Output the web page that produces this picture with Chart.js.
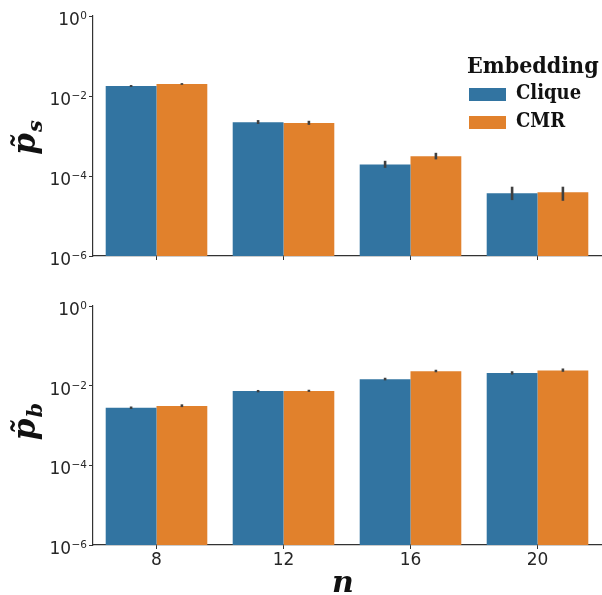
<!DOCTYPE html>
<html>
<head>
<meta charset="utf-8">
<script src="https://cdn.jsdelivr.net/npm/chart.js@4.4.0/dist/chart.umd.min.js"></script>
<style>
  html, body { margin: 0; padding: 0; background: #ffffff; }
  #wrap { position: relative; width: 602px; height: 595px; overflow: hidden; }
  .panel { position: absolute; left: 0; width: 602px; }
  #top { top: 0; height: 280px; }
  #bot { top: 280px; height: 315px; }
</style>
</head>
<body>
<div id="wrap">
  <div class="panel" id="top"><canvas id="cTop"></canvas></div>
  <div class="panel" id="bot"><canvas id="cBot"></canvas></div>
</div>
<script>
// ---- data -------------------------------------------------------------
const categories = ['8', '12', '16', '20'];
const seriesNames = ['Clique', 'CMR'];
const legendTitle = 'Embedding';
const xTitle = 'n';

// log ticks: value, mantissa text and exponent text
const yTickValues = [1e-6, 1e-4, 1e-2, 1];
const yTickBase = '10';
const yTickExponents = ['\u22126', '\u22124', '\u22122', '0'];

// success probability p_s
const psClique   = [0.0178, 0.0022, 0.000195, 0.000037];
const psCliqueLo = [0.0168, 0.0020, 0.000160, 0.000025];
const psCliqueHi = [0.0188, 0.0025, 0.000240, 0.000054];
const psCMR      = [0.0200, 0.0021, 0.000310, 0.000039];
const psCMRLo    = [0.0190, 0.0019, 0.000260, 0.000024];
const psCMRHi    = [0.0210, 0.0024, 0.000380, 0.000054];

// p_b
const pbClique   = [0.0028, 0.0073, 0.0144, 0.0208];
const pbCliqueLo = [0.0026, 0.0068, 0.0136, 0.0190];
const pbCliqueHi = [0.0030, 0.0078, 0.0158, 0.0230];
const pbCMR      = [0.0031, 0.0074, 0.0230, 0.0240];
const pbCMRLo    = [0.0029, 0.0070, 0.0217, 0.0223];
const pbCMRHi    = [0.0034, 0.0079, 0.0251, 0.0270];

// ---- styling ----------------------------------------------------------
const colors = ['#3274a1', '#e1812c'];
const axisColor = '#333333';
const textColor = '#262626';
const errColor = '#404040';

// vertical error bars drawn through the y scale
const errorBars = {
  id: 'errorBars',
  afterDatasetsDraw(chart) {
    const ctx = chart.ctx;
    const ys = chart.scales.y;
    ctx.save();
    ctx.strokeStyle = errColor;
    ctx.lineWidth = 2.6;
    chart.data.datasets.forEach((ds, di) => {
      const meta = chart.getDatasetMeta(di);
      meta.data.forEach((bar, i) => {
        const y1 = ys.getPixelForValue(ds.errLo[i]);
        const y2 = ys.getPixelForValue(ds.errHi[i]);
        ctx.beginPath();
        ctx.moveTo(bar.x, y1);
        ctx.lineTo(bar.x, y2);
        ctx.stroke();
      });
    });
    ctx.restore();
  }
};

// y tick labels as 10 with a raised exponent
const logTickLabels = {
  id: 'logTickLabels',
  afterDraw(chart) {
    const ctx = chart.ctx;
    const ys = chart.scales.y;
    const right = ys.right - 6;
    ctx.save();
    ctx.fillStyle = textColor;
    ctx.textBaseline = 'alphabetic';
    ctx.textAlign = 'right';
    ys.ticks.forEach((t) => {
      const idx = yTickValues.indexOf(t.value);
      if (idx < 0) return;
      const y = ys.getPixelForValue(t.value);
      ctx.font = '10.5px "DejaVu Sans"';
      const exp = yTickExponents[idx];
      const we = ctx.measureText(exp).width;
      ctx.fillText(exp, right, y + 3);
      ctx.font = '17px "DejaVu Sans"';
      ctx.fillText(yTickBase, right - we - 0.5, y + 9);
    });
    ctx.restore();
  }
};

// rotated y title: tilde-p with subscript
function drawYTitle(ctx, x0, yc, sub) {
  ctx.save();
  ctx.translate(x0, yc);
  ctx.rotate(-Math.PI / 2);
  ctx.fillStyle = '#111111';
  ctx.textBaseline = 'alphabetic';
  ctx.textAlign = 'left';
  const mainFont = 'italic bold 31px "DejaVu Serif"';
  const subFont = 'italic bold 21px "DejaVu Serif"';
  const main = 'p\u0303';
  ctx.font = mainFont;
  const wm = ctx.measureText(main).width;
  ctx.font = subFont;
  const ws = ctx.measureText(sub).width;
  const start = -(wm + ws) / 2;
  ctx.font = mainFont;
  ctx.fillText(main, start, 0);
  ctx.font = subFont;
  ctx.fillText(sub, start + wm + 1, 7);
  ctx.restore();
}

const titles = {
  id: 'titles',
  afterDraw(chart, args, opts) {
    const ctx = chart.ctx;
    drawYTitle(ctx, opts.yTitleX, opts.yTitleY, opts.sub);
    if (opts.showX) {
      ctx.save();
      ctx.fillStyle = '#111111';
      ctx.font = 'italic bold 30px "DejaVu Serif"';
      ctx.textAlign = 'center';
      ctx.textBaseline = 'alphabetic';
      ctx.fillText(xTitle, opts.xTitleX, opts.xTitleY);
      ctx.restore();
    }
    if (opts.showLegend) {
      ctx.save();
      ctx.fillStyle = '#111111';
      ctx.textAlign = 'left';
      ctx.textBaseline = 'alphabetic';
      ctx.font = 'bold 23px "DejaVu Serif Condensed", "DejaVu Serif"';
      ctx.fillText(legendTitle, 467, 73);
      ctx.font = 'bold 20px "DejaVu Serif Condensed", "DejaVu Serif"';
      chart.data.datasets.forEach((ds, i) => {
        const py = 88 + i * 28;
        ctx.fillStyle = ds.backgroundColor;
        ctx.fillRect(469, py, 37, 13);
        ctx.fillStyle = '#111111';
        ctx.fillText(ds.label, 516, py + 11);
      });
      ctx.restore();
    }
  }
};

function makePanel(canvasId, dataA, loA, hiA, dataB, loB, hiB, cfg) {
  return new Chart(document.getElementById(canvasId), {
    type: 'bar',
    data: {
      labels: categories,
      datasets: [
        { label: seriesNames[0], data: dataA, errLo: loA, errHi: hiA,
          backgroundColor: colors[0], borderWidth: 0 },
        { label: seriesNames[1], data: dataB, errLo: loB, errHi: hiB,
          backgroundColor: colors[1], borderWidth: 0 }
      ]
    },
    options: {
      responsive: true,
      maintainAspectRatio: false,
      animation: false,
      devicePixelRatio: 1,
      categoryPercentage: 0.8,
      barPercentage: 1.0,
      layout: { padding: { top: cfg.padTop, right: 1, left: 0, bottom: 0 } },
      plugins: {
        legend: { display: false },
        tooltip: { enabled: false },
        titles: cfg.titles
      },
      scales: {
        x: {
          type: 'category',
          offset: true,
          grid: { display: true, offset: false, drawOnChartArea: false, drawTicks: true,
                  tickLength: 4, color: axisColor, lineWidth: 1 },
          border: { display: true, color: axisColor, width: 1.2 },
          ticks: { display: cfg.showXTicks, color: textColor, padding: 1,
                   font: { family: 'DejaVu Sans', size: 17 } },
          afterFit(scale) { scale.height = cfg.xHeight; }
        },
        y: {
          type: 'logarithmic',
          min: 1e-6,
          max: 1,
          grid: { display: true, drawOnChartArea: false, drawTicks: true,
                  tickLength: 4, color: axisColor, lineWidth: 1 },
          border: { display: true, color: axisColor, width: 1.2 },
          afterBuildTicks(scale) {
            scale.ticks = yTickValues.map(v => ({ value: v, major: true }));
          },
          ticks: { display: false, autoSkip: false },
          afterFit(scale) { scale.width = 93; }
        }
      }
    },
    plugins: [errorBars, logTickLabels, titles]
  });
}

makePanel('cTop', psClique, psCliqueLo, psCliqueHi, psCMR, psCMRLo, psCMRHi, {
  padTop: 16, xHeight: 24, showXTicks: false,
  titles: { yTitleX: 35, yTitleY: 138, sub: 's', showX: false, showLegend: true }
});

makePanel('cBot', pbClique, pbCliqueLo, pbCliqueHi, pbCMR, pbCMRLo, pbCMRHi, {
  padTop: 26, xHeight: 50, showXTicks: true,
  titles: { yTitleX: 35, yTitleY: 142, sub: 'b', showX: true,
            xTitleX: 343, xTitleY: 312, showLegend: false }
});
</script>
</body>
</html>
